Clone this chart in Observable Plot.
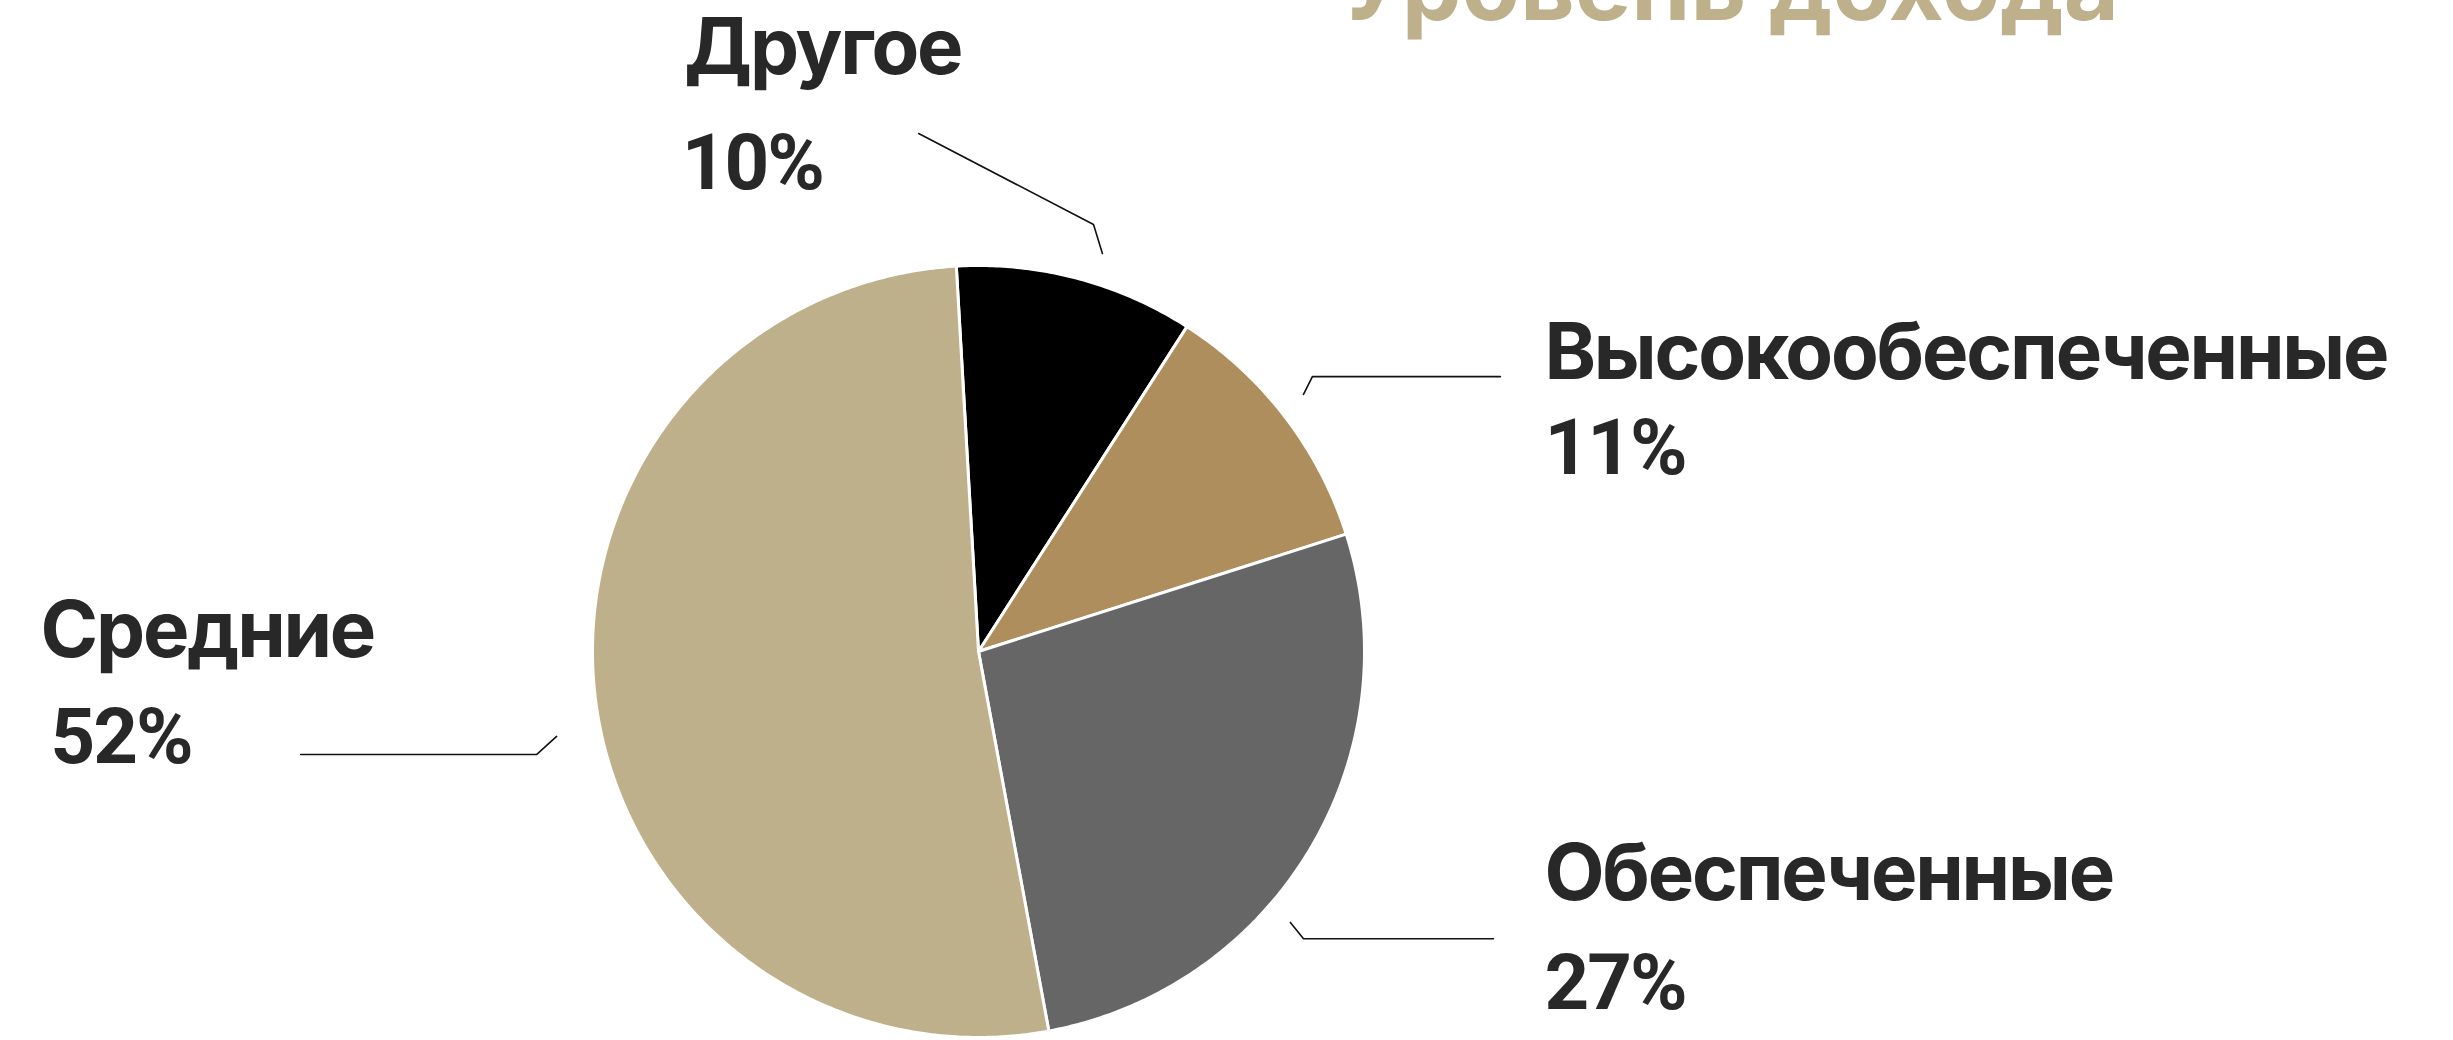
<!DOCTYPE html>
<html>
<head>
<meta charset="utf-8">
<script src="https://cdn.jsdelivr.net/npm/d3@7"></script>
<script src="https://cdn.jsdelivr.net/npm/@observablehq/plot@0.6"></script>
<style>
  html, body { margin: 0; padding: 0; background: #ffffff; overflow: hidden; }
</style>
</head>
<body>
<script>
// ---- data ----
const title = "Уровень дохода";
const categories = ["Другое", "Высокообеспеченные", "Обеспеченные", "Средние"];
const values = [10, 11, 27, 52];           // percent
const colors = ["#000000", "#AE8E5D", "#666666", "#BDB08A"];

// ---- layout (pie radius = 1, centre = 0,0, y up) ----
const W = 2453, H = 1040;
const startDeg = -3.3;                      // rotation of the first slice
const labelPos = [                          // [name x, name y, pct x, pct y]
  [-0.762, 1.495, -0.769, 1.199],
  [1.466, 0.707, 1.466, 0.459],
  [1.466, -0.645, 1.466, -0.925],
  [-2.430, -0.013, -2.404, -0.290]
];
const leaders = [                           // polylines in pie units
  [[0.321, 1.031], [0.298, 1.106], [-0.155, 1.342]],
  [[0.842, 0.666], [0.865, 0.712], [1.352, 0.712]],
  [[0.808, -0.702], [0.842, -0.744], [1.334, -0.744]],
  [[-1.093, -0.220], [-1.145, -0.267], [-1.756, -0.267]]
];
const titlePos = [1.945, 1.637];

// ---- build slices ----
const rows = categories.map((c, i) => ({category: c, value: values[i]}));
const a0 = startDeg * Math.PI / 180;
const arcs = d3.pie().sort(null).value(d => d.value).startAngle(a0).endAngle(a0 + 2 * Math.PI)(rows);
const slicePts = [];
for (const a of arcs) {
  slicePts.push({category: a.data.category, x: 0, y: 0});
  const n = Math.max(2, Math.ceil((a.endAngle - a.startAngle) / (Math.PI / 360)));
  for (let k = 0; k <= n; k++) {
    const t = a.startAngle + (a.endAngle - a.startAngle) * k / n;
    slicePts.push({category: a.data.category, x: Math.sin(t), y: Math.cos(t)});
  }
}
const leaderPts = [];
leaders.forEach((pl, i) => pl.forEach(p => leaderPts.push({id: i, x: p[0], y: p[1]})));
const labels = rows.map((r, i) => ({
  name: r.category, pct: r.value + "%",
  nx: labelPos[i][0], ny: labelPos[i][1], px: labelPos[i][2], py: labelPos[i][3]
}));

// scale domains so that 1 unit = radius in pixels, centre at (978, 651)
const R = 386, cx = 978, cy = 651;
const xDomain = [-cx / R, (W - cx) / R];
const yDomain = [-(H - cy) / R, cy / R];

const font = "Inter, 'Noto Sans', sans-serif";
const chart = Plot.plot({
  width: W, height: H,
  margin: 0,
  x: {domain: xDomain, axis: null},
  y: {domain: yDomain, axis: null},
  color: {domain: categories, range: colors},
  style: {fontFamily: font, background: "#ffffff", overflow: "visible"},
  marks: [
    Plot.line(slicePts, {x: "x", y: "y", z: "category", fill: "category", stroke: "#ffffff",
      strokeWidth: 3, strokeLinejoin: "round", curve: "linear-closed"}),
    Plot.line(leaderPts, {x: "x", y: "y", z: "id", stroke: "#111111", strokeWidth: 1.6}),
    Plot.text(labels, {x: "nx", y: "ny", text: "name", textAnchor: "start", lineAnchor: "bottom",
      fontSize: 78, fontWeight: 700, fill: "#282828"}),
    Plot.text(labels, {x: "px", y: "py", text: "pct", textAnchor: "start", lineAnchor: "bottom",
      fontSize: 78, fontWeight: 700, fill: "#282828", fontFamily: "Roboto, Inter, sans-serif"}),
    Plot.text([title], {x: () => titlePos[0], y: () => titlePos[1], text: d => d, textAnchor: "middle", lineAnchor: "bottom",
      fontSize: 95, fontWeight: 700, fill: "#BDB08A"})
  ]
});
const textGroups = chart.querySelectorAll('g[aria-label="text"]');
if (textGroups[0]) textGroups[0].style.letterSpacing = "-2.2px";
if (textGroups[1]) textGroups[1].style.letterSpacing = "-2px";
document.body.appendChild(chart);
</script>
</body>
</html>
